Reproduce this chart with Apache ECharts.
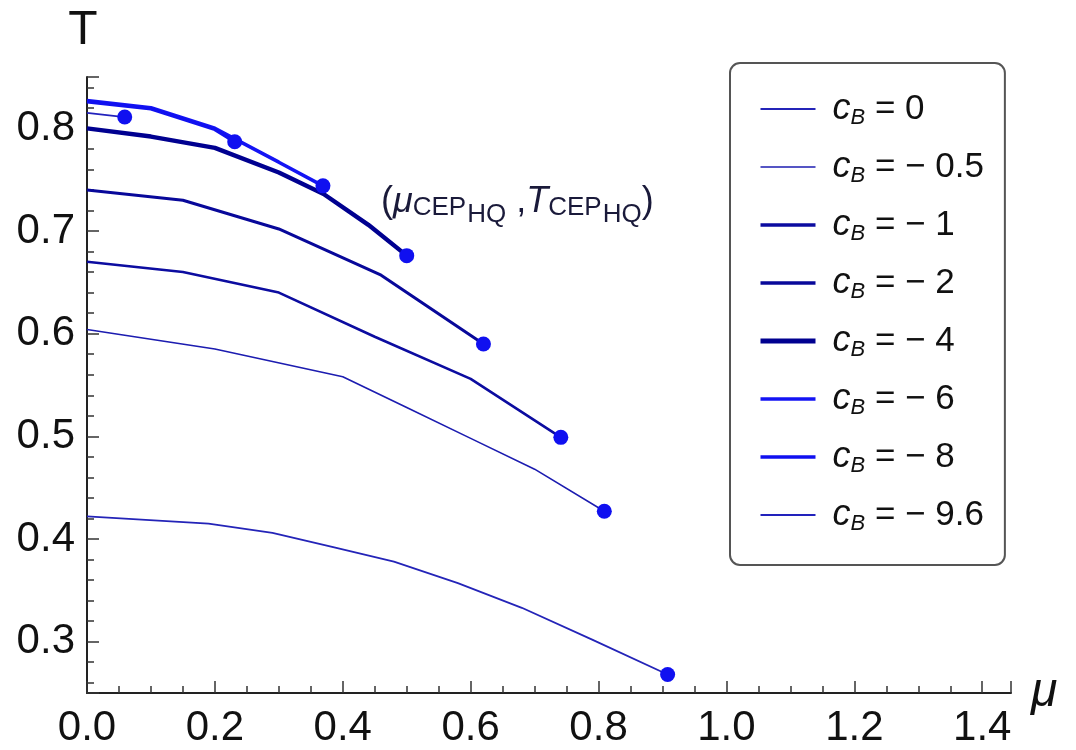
<!DOCTYPE html>
<html>
<head>
<meta charset="utf-8">
<script src="https://cdn.jsdelivr.net/npm/echarts@6/dist/echarts.min.js"></script>
<style>html,body{margin:0;padding:0;background:#fff}#c{width:1076px;height:750px}</style>
</head>
<body>
<div id="c"></div>
<script>
// ---- data ----
const cbValues = ['0', '0.5', '1', '2', '4', '6', '8', '9.6'];
const seriesNames = ['cB = 0', 'cB = -0.5', 'cB = -1', 'cB = -2', 'cB = -4', 'cB = -6', 'cB = -8', 'cB = -9.6'];
const curve_0   = [[0,0.422],[0.19,0.415],[0.29,0.406],[0.385,0.392],[0.48,0.378],[0.58,0.357],[0.68,0.333],[0.79,0.302],[0.908,0.268]];
const curve_m05 = [[0,0.604],[0.2,0.585],[0.4,0.558],[0.5,0.528],[0.6,0.498],[0.7,0.468],[0.809,0.427]];
const curve_m1  = [[0,0.670],[0.15,0.660],[0.3,0.640],[0.45,0.597],[0.6,0.556],[0.741,0.499]];
const curve_m2  = [[0,0.740],[0.15,0.730],[0.3,0.702],[0.46,0.657],[0.62,0.590]];
const curve_m4  = [[0,0.800],[0.1,0.792],[0.2,0.781],[0.3,0.757],[0.37,0.736],[0.44,0.706],[0.50,0.676]];
const curve_m6  = [[0,0.827],[0.1,0.820],[0.2,0.800],[0.3,0.767],[0.369,0.744]];
const curve_m8  = [[0,0.826],[0.1,0.819],[0.2,0.799],[0.231,0.787]];
const curve_m96 = [[0,0.815],[0.059,0.811]];
const cepPoints = [[0.908,0.268],[0.809,0.427],[0.741,0.499],[0.62,0.590],[0.50,0.676],[0.369,0.744],[0.231,0.787],[0.059,0.811]];
const curves = [curve_0, curve_m05, curve_m1, curve_m2, curve_m4, curve_m6, curve_m8, curve_m96];
const xTickLabels = ['0.0','0.2','0.4','0.6','0.8','1.0','1.2','1.4'];

// ---- styles ----
const lineColors = ['#2424b8','#1c1cb0','#0c0ca0','#08089a','#000090','#1414f4','#1010f0','#2222bc'];
const lineWidths = [1.8, 1.6, 2.6, 3.0, 4.4, 3.6, 3.6, 1.8];
const legendWidths = [2, 1.6, 3.5, 3.5, 5, 3.5, 3.5, 2];
const FONT = '"Liberation Sans", Arial, sans-serif';
const TXT = '#111';

const chart = echarts.init(document.getElementById('c'), null, {renderer: 'canvas'});

const series = curves.map((d, i) => ({
  name: seriesNames[i],
  type: 'line',
  data: d,
  symbol: 'none',
  smooth: false,
  lineStyle: {color: lineColors[i], width: lineWidths[i]},
  itemStyle: {color: lineColors[i]},
  z: 2 + (i === 4 ? 1 : 0),
  silent: true
}));
series.push({
  name: 'CEP',
  type: 'scatter',
  data: cepPoints,
  symbol: 'circle',
  symbolSize: 15,
  itemStyle: {color: '#1010f0', opacity: 1},
  z: 5,
  silent: true
});

const option = {
  backgroundColor: '#fff',
  animation: false,
  grid: {left: 87, right: 65, top: 77, bottom: 57, containLabel: false},
  xAxis: {
    type: 'value', min: 0, max: 1.445, interval: 0.2,
    name: 'μ', nameLocation: 'end', nameGap: 20,
    nameTextStyle: {fontFamily: FONT, fontSize: 48, fontStyle: 'italic', color: TXT, verticalAlign: 'middle', padding: [8, 0, 0, 0]},
    axisLine: {show: true, onZero: false, lineStyle: {color: '#222', width: 2}},
    axisTick: {show: true, inside: true, length: 12, lineStyle: {color: '#333', width: 1.5}},
    minorTick: {show: true, splitNumber: 4, length: 7, lineStyle: {color: '#333', width: 1.5}},
    splitLine: {show: false},
    axisLabel: {
      showMaxLabel: false, margin: 14, color: TXT, fontFamily: FONT, fontSize: 42,
      formatter: v => { const k = Math.round(v / 0.2); return (Math.abs(v - k * 0.2) < 1e-6 && k < xTickLabels.length) ? xTickLabels[k] : ''; }
    }
  },
  yAxis: {
    type: 'value', min: 0.25, max: 0.85,
    name: 'T', nameLocation: 'end', nameGap: 22,
    nameTextStyle: {fontFamily: FONT, fontSize: 48, color: TXT, padding: [0, 8, 0, 0]},
    axisLine: {show: true, onZero: false, lineStyle: {color: '#222', width: 2}},
    axisTick: {show: true, inside: true, length: 12, lineStyle: {color: '#333', width: 1.5}},
    minorTick: {show: true, splitNumber: 5, length: 7, lineStyle: {color: '#333', width: 1.5}},
    splitLine: {show: false},
    axisLabel: {
      showMinLabel: false, showMaxLabel: false, margin: 12, color: TXT, fontFamily: FONT, fontSize: 42,
      formatter: v => { const r = Math.round(v * 10) / 10; return Math.abs(v - r) < 1e-6 ? r.toFixed(1) : ''; }
    }
  },
  legend: {
    data: seriesNames.map((n, i) => ({name: n, lineStyle: {width: legendWidths[i], color: lineColors[i]}})),
    orient: 'vertical',
    left: 730, top: 63,
    backgroundColor: '#fff',
    borderColor: '#555', borderWidth: 2, borderRadius: 10,
    padding: [28, 21, 30, 28],
    itemWidth: 55, itemHeight: 14, itemGap: 20,
    itemStyle: {opacity: 0},
    selectedMode: false,
    formatter: name => {
      const i = seriesNames.indexOf(name);
      const v = cbValues[i];
      return v === '0' ? '{c|c}{b|B}{t| = 0}' : '{c|c}{b|B}{t| = − ' + v + '}';
    },
    textStyle: {
      color: TXT, fontFamily: FONT, fontSize: 35, padding: [0, 0, 0, 12],
      rich: {
        c: {fontFamily: FONT, fontStyle: 'italic', fontSize: 36, color: TXT, lineHeight: 40},
        b: {fontFamily: FONT, fontStyle: 'italic', fontSize: 22, color: TXT, lineHeight: 22, verticalAlign: 'bottom'},
        t: {fontFamily: FONT, fontSize: 35, color: TXT, lineHeight: 40}
      }
    }
  },
  graphic: [{
    type: 'text', left: 381, top: 184, z: 10,
    style: {
      text: '{p|(}{m|μ}{s|CEP}{h|HQ}{p| ,}{m|T}{s|CEP}{h|HQ}{p|)}',
      rich: {
        p: {fontFamily: FONT, fontSize: 36, fill: '#1a1a3a'},
        m: {fontFamily: FONT, fontStyle: 'italic', fontSize: 36, fill: '#1a1a3a'},
        s: {fontFamily: FONT, fontSize: 26, fill: '#1a1a3a', padding: [12, 0, 0, 0]},
        h: {fontFamily: FONT, fontSize: 26, fill: '#1a1a3a', padding: [26, 0, 0, 1]}
      }
    }
  }],
  series: series
};
chart.setOption(option);
</script>
</body>
</html>
